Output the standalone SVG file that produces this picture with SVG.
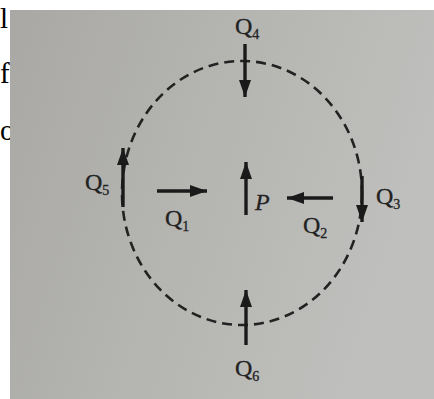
<svg xmlns="http://www.w3.org/2000/svg" width="434" height="399" viewBox="0 0 434 399">
<defs>
<linearGradient id="bg" x1="0" y1="0" x2="1" y2="0.3">
<stop offset="0" stop-color="#a9a8a4"/>
<stop offset="1" stop-color="#bfc0bd"/>
</linearGradient>
<marker id="ah" markerUnits="userSpaceOnUse" markerWidth="19" markerHeight="13" refX="17" refY="6.5" orient="auto">
<path d="M0,0.5 L17,6.5 L0,12.5 Z" fill="#1a1a1a"/>
</marker>
</defs>
<style>
.arr{stroke:#1a1a1a;stroke-width:3.4;fill:none;marker-end:url(#ah)}
.lbl{font-family:"Liberation Serif","Times New Roman",serif;font-size:24px;fill:#222;stroke:#222;stroke-width:0.3}
.sub{font-size:14px}
.pg{font-family:"Liberation Serif","Times New Roman",serif;font-size:29px;fill:#000}
</style>
<rect width="434" height="399" fill="#ffffff"/>
<g id="page-text">
<text class="pg" x="0" y="28">l</text>
<text class="pg" x="0" y="83">f</text>
<text class="pg" x="0" y="140">o</text>
</g>
<rect x="10" y="10" width="424" height="389" fill="url(#bg)"/>
<g id="boundary">
<ellipse cx="242" cy="193" rx="120" ry="132" fill="none" stroke="#222" stroke-width="2.6" stroke-dasharray="10 6"/>
</g>
<g id="connectors">
<line id="a-q4" class="arr" x1="245" y1="44" x2="245" y2="97"/>
<line id="a-q5" class="arr" x1="123" y1="207" x2="123" y2="148"/>
<line id="a-q1" class="arr" x1="157" y1="191" x2="207" y2="191"/>
<line id="a-p" class="arr" x1="246" y1="215" x2="246" y2="162"/>
<line id="a-q2" class="arr" x1="333" y1="198" x2="287" y2="198"/>
<line id="a-q3" class="arr" x1="362" y1="176" x2="362" y2="222"/>
<line id="a-q6" class="arr" x1="246" y1="345" x2="246" y2="290"/>
</g>
<g id="Q4"><text class="lbl" x="235" y="34">Q<tspan class="sub" dy="5">4</tspan></text></g>
<g id="Q5"><text class="lbl" x="85" y="190">Q<tspan class="sub" dy="5">5</tspan></text></g>
<g id="Q1"><text class="lbl" x="165" y="226">Q<tspan class="sub" dy="5">1</tspan></text></g>
<g id="P"><text class="lbl" x="255" y="210" font-style="italic">P</text></g>
<g id="Q2"><text class="lbl" x="303" y="233">Q<tspan class="sub" dy="5">2</tspan></text></g>
<g id="Q3"><text class="lbl" x="376" y="204">Q<tspan class="sub" dy="5">3</tspan></text></g>
<g id="Q6"><text class="lbl" x="235" y="376">Q<tspan class="sub" dy="5">6</tspan></text></g>
</svg>
